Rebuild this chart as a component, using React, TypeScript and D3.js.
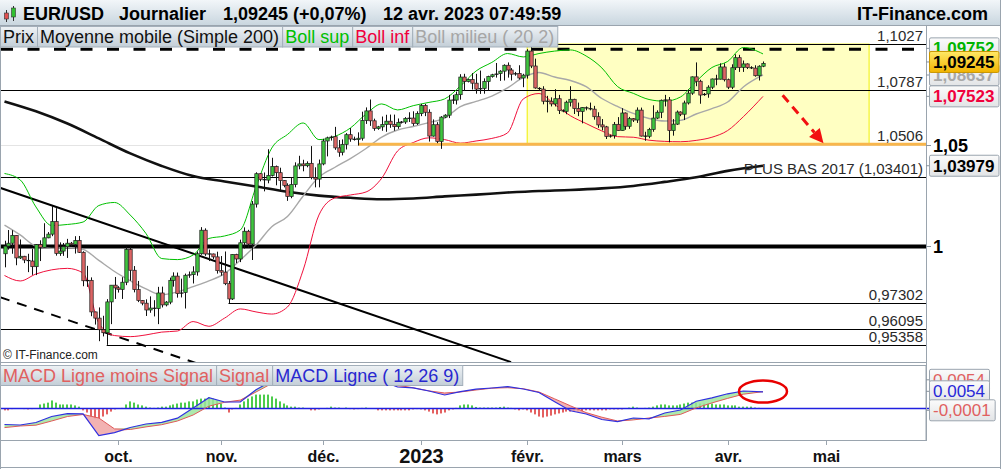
import React, { useEffect, useRef } from 'react';
import * as d3 from 'd3';

const width = 1001;
const height = 469;
const FONT = '"Liberation Sans", Arial, Helvetica, sans-serif';

// EUR/USD journalier, du 29 août 2022 au 12 avr. 2023 (séances du dimanche incluses)
// [ouverture, plus haut, plus bas, clôture]
const ohlc: [number, number, number, number][] = [
  [0.9965, 1.0028, 0.9900, 1.0002], [1.0002, 1.0080, 0.9985, 1.0016], [1.0016, 1.0079, 0.9965, 1.0054],
  // sept.
  [1.0054, 1.0055, 0.9910, 0.9945], [0.9945, 1.0034, 0.9940, 0.9953],
  [0.9953, 0.9955, 0.9920, 0.9935], [0.9935, 0.9965, 0.9877, 0.9930], [0.9930, 0.9989, 0.9864, 0.9903],
  [0.9903, 1.0012, 0.9863, 1.0009], [1.0009, 1.0030, 0.9930, 0.9996], [0.9996, 1.0113, 0.9995, 1.0042],
  [1.0042, 1.0070, 1.0040, 1.0060], [1.0060, 1.0198, 1.0050, 1.0121], [1.0121, 1.0187, 0.9956, 0.9967],
  [0.9967, 1.0020, 0.9955, 0.9978], [0.9978, 1.0017, 0.9955, 0.9999], [0.9999, 1.0037, 0.9945, 1.0016],
  [1.0016, 1.0022, 1.0000, 1.0010], [1.0010, 1.0050, 0.9966, 1.0029], [1.0029, 1.0051, 0.9969, 0.9972],
  [0.9972, 0.9977, 0.9810, 0.9836], [0.9836, 0.9907, 0.9807, 0.9838], [0.9838, 0.9852, 0.9669, 0.9689],
  [0.9689, 0.9690, 0.9630, 0.9660], [0.9660, 0.9710, 0.9553, 0.9606], [0.9606, 0.9671, 0.9575, 0.9592],
  [0.9592, 0.9749, 0.9536, 0.9736], [0.9736, 0.9814, 0.9632, 0.9815], [0.9815, 0.9854, 0.9750, 0.9802],
  // oct.
  [0.9802, 0.9810, 0.9780, 0.9795], [0.9795, 0.9853, 0.9750, 0.9829], [0.9829, 0.9999, 0.9815, 0.9986],
  [0.9986, 0.9999, 0.9836, 0.9886], [0.9886, 0.9906, 0.9781, 0.9794], [0.9794, 0.9835, 0.9735, 0.9743],
  [0.9743, 0.9745, 0.9720, 0.9730], [0.9730, 0.9748, 0.9670, 0.9698], [0.9698, 0.9762, 0.9685, 0.9707],
  [0.9707, 0.9744, 0.9668, 0.9705], [0.9705, 0.9807, 0.9632, 0.9778], [0.9778, 0.9808, 0.9710, 0.9722],
  [0.9722, 0.9740, 0.9715, 0.9735], [0.9735, 0.9851, 0.9725, 0.9838], [0.9838, 0.9876, 0.9808, 0.9858],
  [0.9858, 0.9875, 0.9756, 0.9775], [0.9775, 0.9846, 0.9757, 0.9780], [0.9780, 0.9870, 0.9705, 0.9862],
  [0.9862, 0.9880, 0.9850, 0.9865], [0.9865, 0.9905, 0.9823, 0.9878], [0.9878, 0.9976, 0.9860, 0.9965],
  [0.9965, 1.0094, 0.9960, 1.0079], [1.0079, 1.0088, 0.9955, 0.9964], [0.9964, 0.9985, 0.9930, 0.9964],
  [0.9964, 0.9966, 0.9940, 0.9950], [0.9950, 0.9975, 0.9870, 0.9884],
  // nov.
  [0.9884, 0.9954, 0.9860, 0.9877], [0.9877, 0.9976, 0.9815, 0.9822], [0.9822, 0.9835, 0.9730, 0.9750],
  [0.9750, 0.9963, 0.9745, 0.9962], [0.9962, 0.9965, 0.9920, 0.9940], [0.9940, 1.0033, 0.9925, 1.0018],
  [1.0018, 1.0093, 0.9990, 1.0074], [1.0074, 1.0081, 0.9993, 1.0012], [1.0012, 1.0222, 0.9935, 1.0207],
  [1.0207, 1.0365, 1.0190, 1.0358], [1.0358, 1.0360, 1.0320, 1.0330], [1.0330, 1.0364, 1.0270, 1.0326],
  [1.0326, 1.0481, 1.0310, 1.0349], [1.0349, 1.0438, 1.0344, 1.0394], [1.0394, 1.0399, 1.0300, 1.0363],
  [1.0363, 1.0388, 1.0271, 1.0324], [1.0324, 1.0326, 1.0290, 1.0300], [1.0300, 1.0310, 1.0223, 1.0245],
  [1.0245, 1.0340, 1.0236, 1.0304], [1.0304, 1.0415, 1.0290, 1.0397], [1.0397, 1.0448, 1.0380, 1.0407],
  [1.0407, 1.0428, 1.0370, 1.0398], [1.0398, 1.0420, 1.0390, 1.0410], [1.0410, 1.0497, 1.0330, 1.0339],
  [1.0339, 1.0390, 1.0290, 1.0331], [1.0331, 1.0429, 1.0290, 1.0407],
  // déc.
  [1.0407, 1.0534, 1.0400, 1.0523], [1.0523, 1.0545, 1.0445, 1.0539], [1.0539, 1.0550, 1.0525, 1.0545],
  [1.0545, 1.0595, 1.0478, 1.0488], [1.0488, 1.0528, 1.0443, 1.0466], [1.0466, 1.0531, 1.0450, 1.0506],
  [1.0506, 1.0563, 1.0480, 1.0555], [1.0555, 1.0589, 1.0519, 1.0533], [1.0533, 1.0545, 1.0525, 1.0530],
  [1.0530, 1.0567, 1.0500, 1.0537], [1.0537, 1.0673, 1.0525, 1.0628], [1.0628, 1.0695, 1.0610, 1.0677],
  [1.0677, 1.0736, 1.0600, 1.0626], [1.0626, 1.0637, 1.0575, 1.0587], [1.0587, 1.0600, 1.0580, 1.0595],
  [1.0595, 1.0648, 1.0575, 1.0607], [1.0607, 1.0657, 1.0570, 1.0624], [1.0624, 1.0658, 1.0590, 1.0608],
  [1.0608, 1.0658, 1.0575, 1.0596], [1.0596, 1.0638, 1.0585, 1.0618], [1.0618, 1.0625, 1.0612, 1.0620],
  [1.0620, 1.0645, 1.0610, 1.0638], [1.0638, 1.0670, 1.0620, 1.0640], [1.0640, 1.0675, 1.0600, 1.0612],
  [1.0612, 1.0675, 1.0605, 1.0663], [1.0663, 1.0713, 1.0650, 1.0705],
  // janv. 2023
  [1.0705, 1.0713, 1.0650, 1.0670], [1.0670, 1.0685, 1.0520, 1.0548], [1.0548, 1.0633, 1.0545, 1.0606],
  [1.0606, 1.0619, 1.0512, 1.0521], [1.0521, 1.0650, 1.0483, 1.0645], [1.0645, 1.0660, 1.0640, 1.0655],
  [1.0655, 1.0760, 1.0640, 1.0733], [1.0733, 1.0760, 1.0713, 1.0733], [1.0733, 1.0777, 1.0710, 1.0761],
  [1.0761, 1.0868, 1.0735, 1.0853], [1.0853, 1.0870, 1.0780, 1.0830], [1.0830, 1.0845, 1.0825, 1.0840],
  [1.0840, 1.0874, 1.0788, 1.0821], [1.0821, 1.0870, 1.0766, 1.0790], [1.0790, 1.0887, 1.0765, 1.0794],
  [1.0794, 1.0846, 1.0766, 1.0829], [1.0829, 1.0860, 1.0782, 1.0856], [1.0856, 1.0870, 1.0850, 1.0865],
  [1.0865, 1.0927, 1.0850, 1.0871], [1.0871, 1.0889, 1.0833, 1.0884], [1.0884, 1.0920, 1.0835, 1.0915],
  [1.0915, 1.0930, 1.0850, 1.0890], [1.0890, 1.0900, 1.0835, 1.0868], [1.0868, 1.0880, 1.0860, 1.0872],
  [1.0872, 1.0915, 1.0840, 1.0848], [1.0848, 1.0870, 1.0800, 1.0863],
  // févr.
  [1.0863, 1.1000, 1.0845, 1.0990], [1.0990, 1.1033, 1.0900, 1.0911], [1.0911, 1.0950, 1.0792, 1.0796],
  [1.0796, 1.0800, 1.0780, 1.0790], [1.0790, 1.0805, 1.0711, 1.0727], [1.0727, 1.0755, 1.0669, 1.0727],
  [1.0727, 1.0747, 1.0700, 1.0713], [1.0713, 1.0790, 1.0700, 1.0740], [1.0740, 1.0760, 1.0661, 1.0679],
  [1.0679, 1.0685, 1.0670, 1.0675], [1.0675, 1.0730, 1.0660, 1.0722], [1.0722, 1.0805, 1.0700, 1.0737],
  [1.0737, 1.0740, 1.0661, 1.0689], [1.0689, 1.0720, 1.0650, 1.0674], [1.0674, 1.0697, 1.0613, 1.0695],
  [1.0695, 1.0700, 1.0680, 1.0690], [1.0690, 1.0720, 1.0680, 1.0686], [1.0686, 1.0703, 1.0632, 1.0647],
  [1.0647, 1.0670, 1.0590, 1.0605], [1.0605, 1.0635, 1.0577, 1.0595], [1.0595, 1.0600, 1.0533, 1.0546],
  [1.0546, 1.0555, 1.0540, 1.0550], [1.0550, 1.0620, 1.0535, 1.0608], [1.0608, 1.0645, 1.0575, 1.0576],
  // mars
  [1.0576, 1.0691, 1.0575, 1.0666], [1.0666, 1.0669, 1.0580, 1.0598], [1.0598, 1.0646, 1.0585, 1.0637],
  [1.0637, 1.0640, 1.0620, 1.0630], [1.0630, 1.0695, 1.0615, 1.0681], [1.0681, 1.0694, 1.0546, 1.0548],
  [1.0548, 1.0570, 1.0524, 1.0547], [1.0547, 1.0590, 1.0537, 1.0582], [1.0582, 1.0706, 1.0570, 1.0640],
  [1.0640, 1.0680, 1.0635, 1.0670], [1.0670, 1.0736, 1.0640, 1.0732], [1.0732, 1.0760, 1.0700, 1.0734],
  [1.0734, 1.0749, 1.0516, 1.0576], [1.0576, 1.0635, 1.0550, 1.0609], [1.0609, 1.0679, 1.0605, 1.0671],
  [1.0671, 1.0675, 1.0650, 1.0660], [1.0660, 1.0730, 1.0630, 1.0718], [1.0718, 1.0788, 1.0710, 1.0769],
  [1.0769, 1.0856, 1.0760, 1.0854], [1.0854, 1.0930, 1.0805, 1.0831], [1.0831, 1.0839, 1.0714, 1.0759],
  [1.0759, 1.0770, 1.0755, 1.0765], [1.0765, 1.0810, 1.0745, 1.0800], [1.0800, 1.0845, 1.0790, 1.0843],
  [1.0843, 1.0865, 1.0810, 1.0842], [1.0842, 1.0925, 1.0840, 1.0906], [1.0906, 1.0925, 1.0830, 1.0839],
  // avr.
  [1.0839, 1.0845, 1.0790, 1.0800], [1.0800, 1.0920, 1.0790, 1.0902], [1.0902, 1.0973, 1.0890, 1.0955],
  [1.0955, 1.0970, 1.0880, 1.0904], [1.0904, 1.0940, 1.0880, 1.0922], [1.0922, 1.0925, 1.0895, 1.0903],
  [1.0903, 1.0910, 1.0895, 1.0900], [1.0900, 1.0915, 1.0855, 1.0860], [1.0860, 1.0915, 1.0835, 1.0910],
  [1.0910, 1.0935, 1.0905, 1.0925],
];

// Bandes de Bollinger (20, 2) relevées toutes les 4 séances, dernier point = dernière séance
const bollSup = [
  1.0359, 1.0327, 1.0193, 1.0102, 1.0107, 1.0119, 1.0200, 1.0215, 1.0153, 1.0063,
  0.9942, 0.9937, 0.9959, 1.0039, 1.0051, 1.0080, 1.0292, 1.0487, 1.0556, 1.0615,
  1.0530, 1.0546, 1.0589, 1.0661, 1.0713, 1.0682, 1.0704, 1.0721, 1.0739, 1.0806,
  1.0885, 1.0930, 1.0977, 1.0959, 1.0977, 1.0990, 1.0996, 1.0964, 1.0901, 1.0803,
  1.0768, 1.0736, 1.0727, 1.0749, 1.0830, 1.0903, 1.0935, 1.1009, 1.0975,
];
const bollMilieu = [
  1.0104, 1.0056, 1.0002, 0.9991, 0.9996, 0.9986, 0.9933, 0.9880, 0.9836, 0.9797,
  0.9769, 0.9783, 0.9808, 0.9835, 0.9870, 0.9935, 1.0007, 1.0096, 1.0146, 1.0247,
  1.0341, 1.0389, 1.0434, 1.0485, 1.0543, 1.0579, 1.0597, 1.0617, 1.0640, 1.0699,
  1.0726, 1.0754, 1.0796, 1.0851, 1.0877, 1.0853, 1.0835, 1.0803, 1.0741, 1.0700,
  1.0664, 1.0638, 1.0625, 1.0628, 1.0661, 1.0689, 1.0723, 1.0801, 1.0864,
];
const bollInf = [
  0.9861, 0.9835, 0.9868, 0.9888, 0.9895, 0.9873, 0.9637, 0.9579, 0.9574, 0.9582,
  0.9595, 0.9600, 0.9644, 0.9622, 0.9660, 0.9703, 0.9689, 0.9679, 0.9712, 0.9887,
  1.0153, 1.0237, 1.0252, 1.0267, 1.0336, 1.0472, 1.0515, 1.0539, 1.0530, 1.0512,
  1.0523, 1.0536, 1.0564, 1.0739, 1.0767, 1.0710, 1.0652, 1.0612, 1.0574, 1.0545,
  1.0542, 1.0527, 1.0521, 1.0519, 1.0526, 1.0542, 1.0576, 1.0647, 1.0752,
];

// Moyenne mobile simple 200, relevée toutes les 8 séances
const mm200 = [
  1.0726, 1.0675, 1.0612, 1.0536, 1.0460, 1.0397, 1.0346, 1.0319, 1.0294, 1.0268,
  1.0249, 1.0238, 1.0231, 1.0235, 1.0245, 1.0254, 1.0264, 1.0272, 1.0277, 1.0285,
  1.0297, 1.0317, 1.0340, 1.0372, 1.0398,
];

// MACD (12 26 9), en 1e-4, toutes les 4 séances
const macdLigne = [
  -51.8, -53.4, -45.3, -25.9, -16.8, -17.5, -88, -78, -61.5, -50.2,
  -44.7, -31.4, 1.6, 35, 21, 21, 60.8, 89, 97.1, 111.7,
  117.2, 114.9, 111.7, 101.9, 89, 69.6, 67, 56.6, 43.7, 54.4,
  62.8, 66.3, 70.9, 63.1, 51.8, 21.7, -7.4, -17.8, -35.6, -42.4,
  -30.7, -33.3, -14.6, -4.9, 23.6, 34.6, 47.6, 56.6, 54,
];
const macdSignal = [
  -61.8, -56.6, -54, -40.5, -25.9, -19.4, -30.7, -66, -68, -59.5,
  -52.4, -40.5, -21, 7.4, 20.1, 27.2, 53.4, 80.9, 92.2, 99.7,
  104.9, 105.2, 101.9, 95.5, 88, 75.4, 67, 57, 50.2, 53.4,
  59.9, 65.7, 67.3, 64.1, 53.4, 31.1, 8.7, -13.3, -28.2, -40.5,
  -36.9, -30.7, -25.6, -19.1, 1.9, 18.1, 32.7, 46.3, 54.5,
];
// MACD ligne moins signal, une barre par séance (1e-4)
const macdHisto = [
  -6, -6, -2, -1, -1, -2, -3, -2, 0,
  13, 16, 19, 26, 19, 13, 13, 13, 13, 10, 6,
  -6, -13, -26, -32, -32, -26, -19, -10, -3,
  0, 2, 13, 23, 19, 13, 10, 6, 3, 2,
  3, 6, 6, 10, 13, 16, 19, 19, 23, 23, 29, 32,
  32, 36, 32, 26, 16, 3, -13, -3, 2,
  13, 23, 32, 39, 45, 45, 45, 45, 39, 32, 23, 16,
  10, 6, 6, 3, 3, 0, -6, -6, -3, 0, 2, 6, 3, 3, 0, 3,
  -2, -3, -2, 2, 3, 1, -1,
  -6, -6, -6, -6, -6, -6, -6, -6, -6, -3, -2, -3, -6,
  -10, -16, -19, -16, -13, -6, -3, 2,
  10, 13, 13, 10, 5, 3, 3, 3, 3, 3, 5, 6, 3, 2,
  -3, -6, -3, -6,
  -13, -19, -26, -29, -26, -23, -19, -16, -13, -10,
  -10, -10, -10, -10, -6, -6, -6, -6, -6, -6, -3, -3, -3, -3,
  0, 3, 6, 3, 0, 2, 3,
  6, 10, 13, 13, 10, 10, 10, 13, 16, 19, 19, 19, 16, 16, 16, 16, 13, 13, 13, 10, 10, 10, 6, 6, 6, 6,
  3, 2, -1,
];

const monthTicks = [
  { label: 'oct.', index: 29, big: false },
  { label: 'nov.', index: 55, big: false },
  { label: 'déc.', index: 81, big: false },
  { label: '2023', index: 106, big: true },
  { label: 'févr.', index: 133, big: false },
  { label: 'mars', index: 157, big: false },
  { label: 'avr.', index: 184, big: false },
  { label: 'mai', index: 209, big: false },
];

// niveaux tracés : valeur, séance de départ, libellé
const niveaux = [
  { value: 1.1027, from: 134, label: '1,1027' },
  { value: 1.0787, from: -2, label: '1,0787' },
  { value: 1.03401, from: -2, label: 'PLUS BAS 2017 (1,03401)' },
  { value: 0.97302, from: 57, label: '0,97302' },
  { value: 0.96095, from: -2, label: '0,96095' },
  { value: 0.95358, from: 26, label: '0,95358' },
];
const support = { value: 1.0506, from: 90, label: '1,0506' };
const zone = { from: 133, to: 220, top: 1.1027, bottom: 1.0506 };
// droites de tendance : [séance, cours] -> [séance, cours]
const tendance = { a: [-1.15, 1.0288], b: [128.9, 0.9457] };
const tendancePointillee = { a: [-1.15, 0.9758], b: [60, 0.9385] };
const fleche = { a: [198, 1.0758], b: [208.4, 1.0512] };

const prixTags = [
  { value: 1.09752, text: '1,09752', color: '#00b400', dy: -5.5 },
  { value: 1.08637, text: '1,08637', color: '#a8a8a8', dy: 0 },
  { value: 1.07523, text: '1,07523', color: '#f0003c', dy: 0 },
  { value: 1.09245, text: '1,09245', color: '#000000', dy: -1.5, current: true },
  { value: 1.03979, text: '1,03979', color: '#000000', dy: 0 },
];
const macdTags = [
  { value: 54, text: '0,0054', color: '#e06060', dy: -12 },
  { value: 54, text: '0.0054', color: '#2828d8', dy: -0.5 },
  { value: -1, text: '-0,0001', color: '#e06060', dy: 1.5 },
];

const App: React.FC = () => {
  const svgRef = useRef<SVGSVGElement>(null);

  useEffect(() => {
    if (!svgRef.current) return;
    const svg = d3.select(svgRef.current);
    svg.selectAll('*').remove();

    const plot = { left: 1, right: 926, top: 25, bottom: 362 };
    const macdBox = { top: 365, bottom: 440 };
    const lastIndex = ohlc.length - 1;

    const x = d3.scaleLinear().domain([0, 209]).range([4.5, 4.5 + 209 * 3.93]);
    const y = d3.scaleLog().domain([0.95, 1.1]).range([352.7, 49.2]);
    const ym = d3.scaleLinear().domain([-100, 100]).range([408.5 + 30.9, 408.5 - 30.9]);

    const s4 = (k: number, n: number) => (k === n - 1 ? lastIndex : k * 4);
    const s8 = (k: number, n: number) => (k === n - 1 ? lastIndex : k * 8);

    const defs = svg.append('defs');
    const grad = (id: string, c1: string, c2: string) => {
      const g = defs.append('linearGradient').attr('id', id).attr('x1', 0).attr('y1', 0).attr('x2', 0).attr('y2', 1);
      g.append('stop').attr('offset', '0%').attr('stop-color', c1);
      g.append('stop').attr('offset', '100%').attr('stop-color', c2);
    };
    grad('hdr', '#f2f6f9', '#c9d6df');
    grad('leg', '#eef2f5', '#c3ced7');
    grad('box', '#fbfbfb', '#e2e4e6');
    grad('ybox', '#ffe866', '#f2b400');
    defs.append('clipPath').attr('id', 'clipMain').append('rect')
      .attr('x', plot.left).attr('y', plot.top).attr('width', plot.right - plot.left).attr('height', plot.bottom - plot.top);
    defs.append('clipPath').attr('id', 'clipMacd').append('rect')
      .attr('x', plot.left).attr('y', macdBox.top).attr('width', plot.right - plot.left).attr('height', macdBox.bottom - macdBox.top);

    svg.append('rect').attr('width', width).attr('height', height).attr('fill', '#ffffff');

    // ---- panneau principal
    const main = svg.append('g').attr('clip-path', 'url(#clipMain)');

    main.append('line').attr('x1', plot.left).attr('x2', plot.right)
      .attr('y1', y(1.05)).attr('y2', y(1.05)).attr('stroke', '#e4e4e4');

    main.append('rect')
      .attr('x', x(zone.from)).attr('y', y(zone.top))
      .attr('width', x(zone.to) - x(zone.from)).attr('height', y(zone.bottom) - y(zone.top))
      .attr('fill', '#ffffc2').attr('stroke', '#f0f000').attr('stroke-width', 1);

    niveaux.forEach(n => {
      main.append('line')
        .attr('x1', Math.max(plot.left, x(n.from))).attr('x2', plot.right)
        .attr('y1', Math.round(y(n.value)) + 0.5).attr('y2', Math.round(y(n.value)) + 0.5)
        .attr('stroke', '#000').attr('stroke-width', 1);
    });

    main.append('line').attr('x1', plot.left).attr('x2', plot.right)
      .attr('y1', y(1)).attr('y2', y(1)).attr('stroke', '#000').attr('stroke-width', 4);

    main.append('line').attr('x1', plot.left).attr('x2', plot.right)
      .attr('y1', y(1.1)).attr('y2', y(1.1))
      .attr('stroke', '#000').attr('stroke-width', 3).attr('stroke-dasharray', '12,14.5');

    main.append('line')
      .attr('x1', x(tendance.a[0])).attr('y1', y(tendance.a[1]))
      .attr('x2', x(tendance.b[0])).attr('y2', y(tendance.b[1]))
      .attr('stroke', '#000').attr('stroke-width', 2);
    main.append('line')
      .attr('x1', x(tendancePointillee.a[0])).attr('y1', y(tendancePointillee.a[1]))
      .attr('x2', x(tendancePointillee.b[0])).attr('y2', y(tendancePointillee.b[1]))
      .attr('stroke', '#000').attr('stroke-width', 2).attr('stroke-dasharray', '10,8');

    const lineOf = (step: (k: number, n: number) => number) =>
      d3.line<number>()
        .x((d, k, arr) => x(step(k, (arr as number[]).length)))
        .y(d => y(d))
        .curve(d3.curveMonotoneX);

    main.append('path').datum(mm200).attr('fill', 'none')
      .attr('stroke', '#111').attr('stroke-width', 2.6).attr('d', lineOf(s8));
    main.append('path').datum(bollMilieu).attr('fill', 'none')
      .attr('stroke', '#a8a8a8').attr('stroke-width', 1.4).attr('d', lineOf(s4));
    main.append('path').datum(bollSup).attr('fill', 'none')
      .attr('stroke', '#00c000').attr('stroke-width', 1).attr('d', lineOf(s4));
    main.append('path').datum(bollInf).attr('fill', 'none')
      .attr('stroke', '#f0103c').attr('stroke-width', 1).attr('d', lineOf(s4));

    main.append('line')
      .attr('x1', x(support.from)).attr('x2', plot.right)
      .attr('y1', y(support.value)).attr('y2', y(support.value))
      .attr('stroke', '#f8b64c').attr('stroke-width', 3);

    // bougies
    const candles = main.append('g');
    ohlc.forEach(([o, h, l, c], i) => {
      const cx = Math.round(x(i)) + 0.5;
      candles.append('line').attr('x1', cx).attr('x2', cx)
        .attr('y1', y(h)).attr('y2', y(l)).attr('stroke', '#111').attr('stroke-width', 1);
      const top = y(Math.max(o, c));
      const bot = y(Math.min(o, c));
      if (bot - top < 1.2) {
        candles.append('line').attr('x1', cx - 2).attr('x2', cx + 2)
          .attr('y1', (top + bot) / 2).attr('y2', (top + bot) / 2)
          .attr('stroke', '#111').attr('stroke-width', 1.2);
      } else {
        candles.append('rect')
          .attr('x', cx - 1.7).attr('width', 3.4)
          .attr('y', top).attr('height', bot - top)
          .attr('fill', c >= o ? '#3fc43f' : '#dc6464')
          .attr('stroke', '#1c1c1c').attr('stroke-width', 0.7);
      }
    });

    // flèche rouge
    const ax = x(fleche.a[0]), ay = y(fleche.a[1]);
    const bx = x(fleche.b[0]), by = y(fleche.b[1]);
    const len = Math.hypot(bx - ax, by - ay);
    const ux = (bx - ax) / len, uy = (by - ay) / len;
    const hx = bx - ux * 14, hy = by - uy * 14;
    main.append('line').attr('x1', ax).attr('y1', ay).attr('x2', hx).attr('y2', hy)
      .attr('stroke', '#f21010').attr('stroke-width', 3).attr('stroke-dasharray', '9,6');
    main.append('polygon')
      .attr('points', `${bx},${by} ${hx - uy * 7},${hy + ux * 7} ${hx + uy * 7},${hy - ux * 7}`)
      .attr('fill', '#f21010');

    // libellés des niveaux
    const lbl = svg.append('g').attr('font-family', FONT).attr('font-size', 15).attr('fill', '#2a2a2a')
      .attr('text-anchor', 'end');
    [...niveaux, support].forEach(n => {
      lbl.append('text').attr('x', 923).attr('y', Math.round(y(n.value)) - 3.5).text(n.label);
    });

    svg.append('text').attr('x', 3).attr('y', 359).attr('font-family', FONT).attr('font-size', 12)
      .attr('fill', '#222').text('© IT-Finance.com');

    // ---- panneau MACD
    svg.append('rect').attr('x', plot.left - 0.5).attr('y', macdBox.top + 0.5)
      .attr('width', plot.right - plot.left + 0.5).attr('height', macdBox.bottom - macdBox.top)
      .attr('fill', '#fff').attr('stroke', '#9aa4ae');
    const mg = svg.append('g').attr('clip-path', 'url(#clipMacd)');
    macdHisto.forEach((v, i) => {
      const cx = Math.round(x(i));
      mg.append('rect').attr('x', cx - 1).attr('width', 2)
        .attr('y', Math.min(ym(v), ym(0))).attr('height', Math.abs(ym(v) - ym(0)))
        .attr('fill', v >= 0 ? '#4ccc4c' : '#e46060');
    });
    const ax4 = (k: number) => x(s4(k, macdLigne.length));
    mg.append('path').datum(macdLigne)
      .attr('fill', '#9fe59f').attr('opacity', 0.85)
      .attr('d', d3.area<number>().x((d, k) => ax4(k)).y0((d, k) => ym(macdSignal[k]))
        .y1((d, k) => ym(Math.max(d, macdSignal[k]))));
    mg.append('path').datum(macdLigne)
      .attr('fill', '#f0a4a4').attr('opacity', 0.85)
      .attr('d', d3.area<number>().x((d, k) => ax4(k)).y0((d, k) => ym(macdSignal[k]))
        .y1((d, k) => ym(Math.min(d, macdSignal[k]))));
    mg.append('line').attr('x1', plot.left).attr('x2', plot.right + 4)
      .attr('y1', ym(0)).attr('y2', ym(0)).attr('stroke', '#2020e0').attr('stroke-width', 1.5);
    mg.append('path').datum(macdSignal).attr('fill', 'none').attr('stroke', '#e05a5a').attr('stroke-width', 1)
      .attr('d', d3.line<number>().x((d, k) => ax4(k)).y(d => ym(d)));
    mg.append('path').datum(macdLigne).attr('fill', 'none').attr('stroke', '#3030e0').attr('stroke-width', 1.2)
      .attr('d', d3.line<number>().x((d, k) => ax4(k)).y(d => ym(d)));
    svg.append('line').attr('x1', plot.right).attr('x2', plot.right + 4)
      .attr('y1', ym(0)).attr('y2', ym(0)).attr('stroke', '#2020e0').attr('stroke-width', 1.5);

    svg.append('ellipse').attr('cx', x(lastIndex)).attr('cy', ym(55))
      .attr('rx', 24).attr('ry', 11).attr('fill', 'none').attr('stroke', '#e80000').attr('stroke-width', 2.5);

    // ---- cadres
    svg.append('line').attr('x1', 0).attr('x2', plot.right).attr('y1', plot.bottom + 0.5).attr('y2', plot.bottom + 0.5)
      .attr('stroke', '#9aa4ae');
    svg.append('line').attr('x1', plot.right + 0.5).attr('x2', plot.right + 0.5).attr('y1', plot.top).attr('y2', macdBox.bottom + 1)
      .attr('stroke', '#9aa4ae');
    svg.append('line').attr('x1', 0.5).attr('x2', 0.5).attr('y1', 0).attr('y2', height)
      .attr('stroke', '#9aa4ae');

    // ---- légendes
    const legend = (items: { text: string; color: string }[], x0: number, top: number, h: number, base: number) => {
      const g = svg.append('g').attr('font-family', FONT).attr('font-size', 18);
      let cx = x0;
      items.forEach(it => {
        const t = g.append('text').attr('x', cx + 3).attr('y', base).attr('fill', it.color).text(it.text);
        const w = (t.node() as SVGTextElement).getComputedTextLength();
        g.insert('rect', () => t.node())
          .attr('x', cx + 0.5).attr('y', top + 0.5).attr('width', w + 6).attr('height', h)
          .attr('fill', 'url(#leg)').attr('stroke', '#a3afba');
        cx += w + 6;
      });
    };
    legend([
      { text: 'Prix', color: '#111' },
      { text: 'Moyenne mobile (Simple 200)', color: '#111' },
      { text: 'Boll sup', color: '#00c000' },
      { text: 'Boll inf', color: '#f0003c' },
      { text: 'Boll milieu ( 20 2)', color: '#a6a6a6' },
    ], 0, 26, 20.5, 43);
    legend([
      { text: 'MACD Ligne moins Signal', color: '#e06060' },
      { text: 'Signal', color: '#e06060' },
      { text: 'MACD Ligne ( 12 26 9)', color: '#2828d0' },
    ], 0, 365, 20, 382);

    // ---- axe de droite
    const ra = svg.append('g').attr('font-family', FONT);
    const tag = (yy: number, text: string, color: string, bold: boolean, fill: string, size: number) => {
      ra.append('line').attr('x1', plot.right).attr('x2', plot.right + 5).attr('y1', yy).attr('y2', yy).attr('stroke', '#8a949e');
      const t = ra.append('text').attr('x', 933).attr('y', yy).attr('dy', '0.36em')
        .attr('font-size', size).attr('font-weight', bold ? 'bold' : 'normal').attr('fill', color).text(text);
      const w = (t.node() as SVGTextElement).getComputedTextLength();
      ra.insert('rect', () => t.node())
        .attr('x', 929.5).attr('y', yy - 10.5).attr('width', w + 8).attr('height', 21).attr('rx', 1.5)
        .attr('fill', fill).attr('stroke', fill === 'url(#ybox)' ? '#c99600' : '#9aa4ae');
    };
    prixTags.forEach(p => tag(y(p.value) + p.dy, p.text, p.color, true, p.current ? 'url(#ybox)' : 'url(#box)', 17));
    [{ v: 1.05, t: '1,05' }, { v: 1, t: '1' }].forEach(g => {
      ra.append('line').attr('x1', plot.right).attr('x2', plot.right + 5).attr('y1', y(g.v)).attr('y2', y(g.v)).attr('stroke', '#8a949e');
      ra.append('text').attr('x', 933).attr('y', y(g.v)).attr('dy', '0.36em').attr('font-size', 18)
        .attr('font-weight', 'bold').attr('fill', '#000').text(g.t);
    });
    macdTags.forEach(m => tag(ym(m.value) + m.dy, m.text, m.color, false, 'url(#box)', 17));

    // ---- axe des dates
    const xa = svg.append('g').attr('font-family', FONT).attr('font-weight', 'bold').attr('fill', '#111');
    xa.append('line').attr('x1', 0).attr('x2', width).attr('y1', height - 1.5).attr('y2', height - 1.5).attr('stroke', '#9aa4ae');
    monthTicks.forEach(m => {
      const tx = Math.round(x(m.index)) + 0.5;
      xa.append('line').attr('x1', tx).attr('x2', tx).attr('y1', macdBox.bottom + 1).attr('y2', macdBox.bottom + 5)
        .attr('stroke', '#9aa4ae');
      xa.append('text').attr('x', tx).attr('y', m.big ? 463 : 462).attr('text-anchor', 'middle')
        .attr('font-size', m.big ? 20 : 16).text(m.label);
    });

    // ---- bandeau du haut
    svg.append('rect').attr('x', 0).attr('y', 0).attr('width', width).attr('height', 25)
      .attr('fill', 'url(#hdr)');
    svg.append('line').attr('x1', 0).attr('x2', width).attr('y1', 25.5).attr('y2', 25.5).attr('stroke', '#9aa4ae');
    svg.append('line').attr('x1', width - 0.5).attr('x2', width - 0.5).attr('y1', 0).attr('y2', height).attr('stroke', '#9aa4ae');
    const icon = svg.append('g');
    icon.append('line').attr('x1', 6.5).attr('x2', 6.5).attr('y1', 10).attr('y2', 22).attr('stroke', '#333');
    icon.append('rect').attr('x', 4.5).attr('y', 13).attr('width', 4).attr('height', 6).attr('fill', '#e05050').attr('stroke', '#333').attr('stroke-width', 0.6);
    icon.append('line').attr('x1', 13.5).attr('x2', 13.5).attr('y1', 6).attr('y2', 21).attr('stroke', '#333');
    icon.append('rect').attr('x', 11.5).attr('y', 8).attr('width', 4).attr('height', 9).attr('fill', '#30c030').attr('stroke', '#333').attr('stroke-width', 0.6);
    const hd = svg.append('g').attr('font-family', FONT).attr('font-weight', 'bold').attr('font-size', 18).attr('fill', '#000');
    hd.append('text').attr('x', 23).attr('y', 20).text('EUR/USD');
    hd.append('text').attr('x', 119).attr('y', 20).text('Journalier');
    hd.append('text').attr('x', 223).attr('y', 20).text('1,09245 (+0,07%)');
    hd.append('text').attr('x', 383).attr('y', 20).text('12 avr. 2023 07:49:59');
    hd.append('text').attr('x', 988).attr('y', 20).attr('text-anchor', 'end').text('IT-Finance.com');
  }, []);

  return (
    <svg ref={svgRef} width={width} height={height}
      style={{ position: 'absolute', left: 0, top: 0, display: 'block' }}></svg>
  );
};

export default App;
